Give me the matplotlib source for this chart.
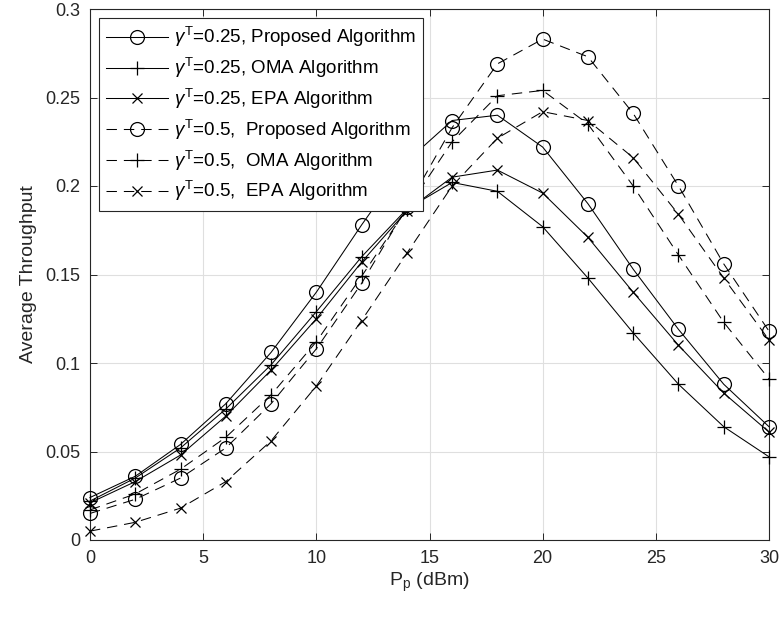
import matplotlib
matplotlib.use("Agg")
import matplotlib.pyplot as plt

plt.rcParams['font.family'] = ['Liberation Sans', 'DejaVu Sans']
plt.rcParams['mathtext.fontset'] = 'custom'
plt.rcParams['mathtext.rm'] = 'Liberation Sans'
plt.rcParams['mathtext.it'] = 'Liberation Sans:italic'
plt.rcParams['mathtext.bf'] = 'Liberation Sans:bold'
plt.rcParams['lines.scale_dashes'] = False

power_dbm = [0, 2, 4, 6, 8, 10, 12, 14, 16, 18, 20, 22, 24, 26, 28, 30]

prop_025 = [0.024, 0.036, 0.054, 0.077, 0.106, 0.140, 0.178, 0.214, 0.237, 0.240, 0.222, 0.190, 0.153, 0.119, 0.088, 0.064]
oma_025 = [0.022, 0.035, 0.052, 0.074, 0.099, 0.129, 0.160, 0.187, 0.202, 0.197, 0.177, 0.148, 0.117, 0.088, 0.064, 0.047]
epa_025 = [0.021, 0.033, 0.048, 0.070, 0.096, 0.125, 0.157, 0.186, 0.205, 0.209, 0.196, 0.171, 0.140, 0.110, 0.083, 0.061]
prop_05 = [0.015, 0.023, 0.035, 0.052, 0.077, 0.108, 0.145, 0.188, 0.233, 0.269, 0.283, 0.273, 0.241, 0.200, 0.156, 0.118]
oma_05 = [0.017, 0.026, 0.040, 0.058, 0.082, 0.112, 0.149, 0.187, 0.225, 0.251, 0.254, 0.235, 0.200, 0.161, 0.123, 0.091]
epa_05 = [0.005, 0.010, 0.018, 0.033, 0.056, 0.087, 0.124, 0.162, 0.200, 0.227, 0.242, 0.237, 0.216, 0.184, 0.148, 0.113]

labels = [
    r'$\gamma^{\mathrm{T}}$=0.25, Proposed Algorithm',
    r'$\gamma^{\mathrm{T}}$=0.25, OMA Algorithm',
    r'$\gamma^{\mathrm{T}}$=0.25, EPA Algorithm',
    r'$\gamma^{\mathrm{T}}$=0.5,  Proposed Algorithm',
    r'$\gamma^{\mathrm{T}}$=0.5,  OMA Algorithm',
    r'$\gamma^{\mathrm{T}}$=0.5,  EPA Algorithm',
]
x_ticks = [0, 5, 10, 15, 20, 25, 30]
y_ticks = [0, 0.05, 0.1, 0.15, 0.2, 0.25, 0.3]
y_tick_labels = ['0', '0.05', '0.1', '0.15', '0.2', '0.25', '0.3']

series = [prop_025, oma_025, epa_025, prop_05, oma_05, epa_05]
markers = ['o', '+', 'x', 'o', '+', 'x']
msizes = [10, 9.5, 7.8, 10, 9.5, 7.8]
solid = [True, True, True, False, False, False]

fig = plt.figure(figsize=(7.83, 6.18), dpi=100)
ax = fig.add_axes([90 / 783, 1 - 540 / 618, (769 - 90) / 783, (540 - 9) / 618])

dark = '#262626'
for ys, m, ms, s, lab in zip(series, markers, msizes, solid, labels):
    line, = ax.plot(power_dbm, ys, color='black', linewidth=0.75, marker=m, markersize=ms,
                    markerfacecolor='none', markeredgecolor='black', markeredgewidth=0.9,
                    label=lab, clip_on=False, zorder=3)
    if not s:
        line.set_dashes((7.5, 5))

ax.set_xlim(0, 30)
ax.set_ylim(0, 0.3)
ax.set_xticks(x_ticks)
ax.set_yticks(y_ticks)
ax.set_yticklabels(y_tick_labels)
ax.grid(True, color='#dfdfdf', linewidth=0.8)
ax.set_axisbelow(True)
ax.tick_params(direction='in', length=5, width=0.7, top=True, right=True,
               labelsize=13, colors=dark, pad=7)
for sp in ax.spines.values():
    sp.set_color(dark)
    sp.set_linewidth(0.8)
    sp.set_zorder(2.5)

ax.set_xlabel(r'P$_{\mathrm{p}}$ (dBm)', fontsize=14, color=dark, labelpad=3)
ax.set_ylabel('Average Throughput', fontsize=14, color=dark, labelpad=6)

leg = ax.legend(loc='upper left', bbox_to_anchor=(9 / 679, 1 - 9 / 531), fontsize=13.5,
                frameon=True, fancybox=False, edgecolor=dark, framealpha=1,
                handlelength=3.3, handletextpad=0.3, labelspacing=0.36, borderpad=0.38,
                borderaxespad=0)
leg.get_frame().set_linewidth(0.8)
leg.set_zorder(5)
for t in leg.get_texts():
    t.set_color('black')

fig.savefig('out.png', dpi=100)
